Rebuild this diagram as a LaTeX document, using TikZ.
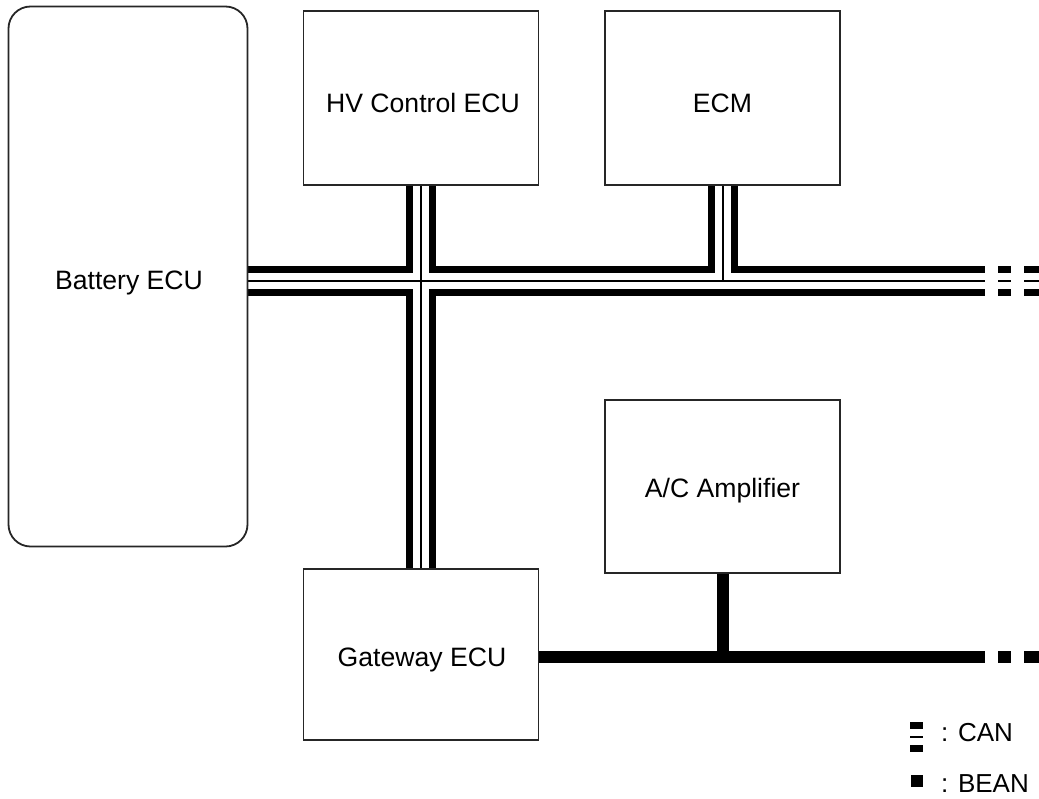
\documentclass[tikz,border=0pt]{standalone}
\usepackage{fontspec}
\setmainfont{Liberation Sans}
\pgfdeclarelayer{background}
\pgfsetlayers{background,main}
\begin{document}
\begin{tikzpicture}[x=1pt,y=-1pt,
  box/.style={draw=black!85, line width=1.8pt, inner sep=0pt},
  lbl/.style={font=\fontsize{26.6}{32}\selectfont, text height=19pt, text depth=0pt, inner sep=0pt},
  leg/.style={font=\fontsize{26}{31}\selectfont, text height=18.6pt, text depth=0pt, inner sep=0pt, anchor=west},
  beanbus/.style={line width=12pt, line cap=butt}]
\useasboundingbox (0,0) rectangle (1039,798);
% boxes
\node[box, rounded corners=22pt, minimum width=239pt, minimum height=540pt] (bat) at (128,276.5) {};
\node[box, minimum width=235pt, minimum height=174pt] (hv) at (421,98) {};
\node[box, minimum width=235pt, minimum height=174pt] (ecm) at (722.5,98) {};
\node[box, minimum width=235pt, minimum height=173pt] (ac) at (722.5,486.5) {};
\node[box, minimum width=235pt, minimum height=171pt] (gw) at (421,654.5) {};
% labels
\node[lbl] (tbat) at (129,280) {Battery ECU};
\node[lbl] (thv) at (423,103) {HV Control ECU};
\node[lbl] (tecm) at (722.5,103) {ECM};
\node[lbl] (tac) at (722.5,488) {A/C Amplifier};
\node[lbl] (tgw) at (422,657) {Gateway ECU};
% coordinates for bus ends
\coordinate (canE) at (985,281);
\coordinate (canD1a) at (998,281);
\coordinate (canD1b) at (1011,281);
\coordinate (canD2a) at (1024,281);
\coordinate (canD2b) at (1039,281);
\coordinate (beanE) at (985,657);
\coordinate (beanD1a) at (998,657);
\coordinate (beanD1b) at (1011,657);
\coordinate (beanD2a) at (1024,657);
\coordinate (beanD2b) at (1039,657);
\coordinate (legCa) at (910,737);
\coordinate (legCb) at (923,737);
\coordinate (legBa) at (911,780.5);
\coordinate (legBb) at (923,780.5);
\begin{pgfonlayer}{background}
% CAN bus: three layers
\foreach \w/\c in {30/black,16/white,2/black}{
  \draw[line width=\w pt, draw=\c, line cap=butt]
    (bat.east |- canE) -- (canE)
    (canD1a) -- (canD1b)
    (canD2a) -- (canD2b)
    (hv.south) -- (gw.north)
    (ecm.south) -- (ecm.south |- canE)
    (legCa) -- (legCb);
}
% BEAN bus
\draw[beanbus] (gw.east |- beanE) -- (beanE)
  (beanD1a) -- (beanD1b)
  (beanD2a) -- (beanD2b)
  (ac.south) -- (ac.south |- beanE)
  (legBa) -- (legBb);
\end{pgfonlayer}
% legend text
\node[leg] (tcan) at (941,732) {: CAN};
\node[leg] (tbean) at (941,783) {: BEAN};
\end{tikzpicture}
\end{document}
